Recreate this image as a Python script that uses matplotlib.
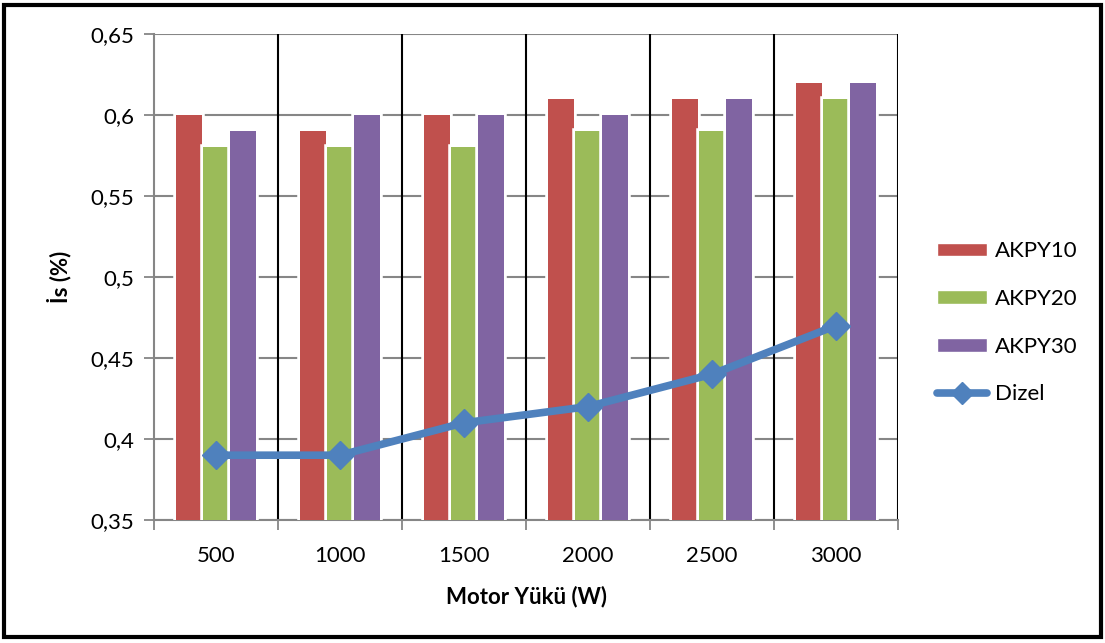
import matplotlib
matplotlib.use("Agg")
from matplotlib import pyplot as plt
from matplotlib.patches import Rectangle, Patch
from matplotlib.lines import Line2D
import matplotlib.patheffects as pe
import numpy as np

categories = ["500", "1000", "1500", "2000", "2500", "3000"]
akpy10 = [0.60, 0.59, 0.60, 0.61, 0.61, 0.62]
akpy20 = [0.58, 0.58, 0.58, 0.59, 0.59, 0.61]
akpy30 = [0.59, 0.60, 0.60, 0.60, 0.61, 0.62]
dizel = [0.39, 0.39, 0.41, 0.42, 0.44, 0.47]

plt.rcParams['font.family'] = ['Lato', 'DejaVu Sans']

fig = plt.figure(figsize=(11.05, 6.43), dpi=100)
ax = fig.add_axes([0.1394, 0.1913, 0.6733, 0.7558])

x = np.arange(len(categories))
w = 0.22
halo = [pe.Stroke(linewidth=4, foreground='white'), pe.Normal()]
series = [(akpy10, '#C0504D', 'AKPY10'), (akpy20, '#9BBB59', 'AKPY20'), (akpy30, '#8064A2', 'AKPY30')]
for k, (vals, col, lab) in enumerate(series):
    bars = ax.bar(x + (k - 1) * w, vals, width=w - 0.012, color=col, zorder=3)
    for b in bars:
        b.set_path_effects(halo)

ax.plot(x, dizel, color='#4F81BD', lw=5.5, marker='D', markersize=14,
        markeredgecolor='#4F81BD', zorder=5, solid_capstyle='round')

ax.set_xlim(-0.5, len(categories) - 0.5)
ax.set_ylim(0.35, 0.65)
ax.set_yticks(np.arange(0.35, 0.651, 0.05))
ax.set_yticklabels(["0,35", "0,4", "0,45", "0,5", "0,55", "0,6", "0,65"], fontsize=16)
ax.set_xticks(x)
ax.set_xticklabels(categories, fontsize=16)
ax.tick_params(axis='x', which='major', length=0, pad=19)
ax.set_xticks(np.arange(-0.5, len(categories)), minor=True)
ax.tick_params(axis='x', which='minor', length=7, color='#868686', width=1.3)
ax.tick_params(axis='y', length=7, color='#868686', width=1.3, pad=7)

ax.grid(axis='y', color='#868686', lw=1.5, zorder=1)
for b in np.arange(0.5, len(categories)):
    ax.axvline(b, color='black', lw=1.5, zorder=2)

for s in ['top', 'right']:
    ax.spines[s].set_visible(False)
for s in ['left', 'bottom']:
    ax.spines[s].set_color('#868686')
    ax.spines[s].set_linewidth(1.5)

ax.set_xlabel("Motor Yükü (W)", fontsize=16, fontweight='bold', labelpad=14)
ax.set_ylabel("İs (%)", fontsize=16, fontweight='bold', labelpad=14)

handles = [Patch(facecolor=c, edgecolor='white') for _, c, _ in series]
handles.append(Line2D([], [], color='#4F81BD', lw=5.5, marker='D', markersize=11, solid_capstyle='round'))
labels = [l for _, _, l in series] + ["Dizel"]
fig.legend(handles, labels, loc='center left', bbox_to_anchor=(0.848, 0.498),
           frameon=False, fontsize=16, handlelength=2.25, handleheight=0.55,
           labelspacing=1.25, handletextpad=0.35, borderpad=0, borderaxespad=0)

fig.patches.append(Rectangle((0.004, 0.009), 0.992, 0.983, transform=fig.transFigure,
                             fill=False, edgecolor='black', lw=3))

fig.savefig("out.png", dpi=100)
